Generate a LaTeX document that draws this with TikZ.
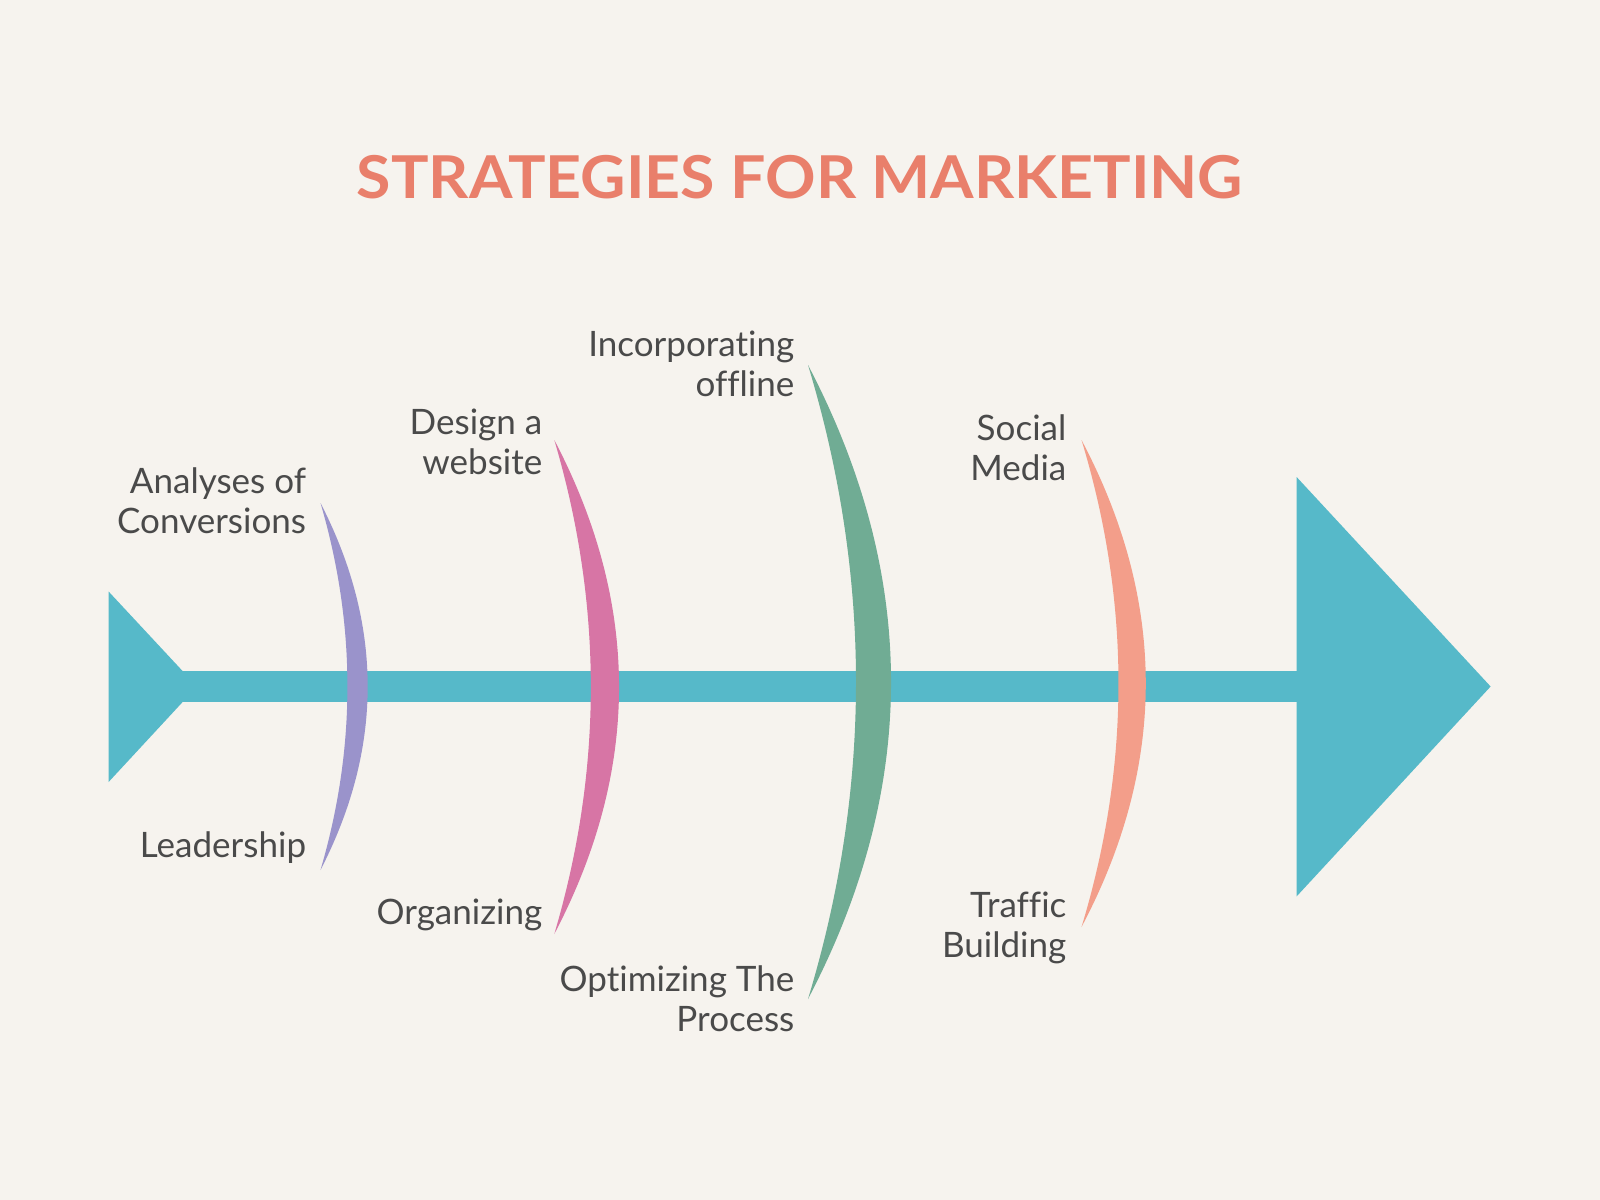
\documentclass[tikz,border=0pt]{standalone}
\usepackage{fontspec}
\usepackage{graphicx}
\setmainfont{Lato}[Ligatures=NoCommon]
\definecolor{paper}{HTML}{F6F3EE}
\definecolor{spinecol}{HTML}{56B9C9}
\definecolor{ink}{HTML}{4A4A4A}
\definecolor{titlecol}{HTML}{E97F6B}
\definecolor{bonepurple}{HTML}{9A93CB}
\definecolor{bonepink}{HTML}{D775A5}
\definecolor{bonegreen}{HTML}{70AC94}
\definecolor{bonesalmon}{HTML}{F39E8A}

\begin{document}
\begin{tikzpicture}[x=0.01cm,y=-0.01cm,
  cause/.style={anchor=base east,align=right,inner sep=0pt,text=ink,
    font=\fontsize{9.96}{11.1}\selectfont},
  headline/.style={anchor=base,inner sep=0pt,text=titlecol,
    font=\fontsize{16.8}{18}\selectfont\bfseries}]
% background
\fill[paper] (0,0) rectangle (1600,1200);
\useasboundingbox (0,0) rectangle (1600,1200);
% title
\node[headline] (title) at (800,198) {\scalebox{1.06}[1]{STRATEGIES FOR MARKETING}};
% drawing the spine
\coordinate (tail) at (182.4,686.5);
\coordinate (head) at (1296.6,686.5);
\draw[spinecol, line width=0.31cm] (tail) -- (head);
\fill[spinecol] (108.6,591.5) -- (197,686.5) -- (108.6,782) -- cycle;
\fill[spinecol] (1296.6,477) -- (1490.6,686.5) -- (1296.6,896.4) -- cycle;
% end of spine
% four bones
\fill[bonepurple] (320.5,503) .. controls (383.4,625.3) and (383.4,747.7) .. (320.5,870)
  .. controls (356.4,747.7) and (356.4,625.3) .. (320.5,503) -- cycle;
\fill[bonepink] (554.3,440) .. controls (640.6,604.7) and (640.6,769.3) .. (554.3,934)
  .. controls (603.0,769.3) and (603.0,604.7) .. (554.3,440) -- cycle;
\fill[bonegreen] (808,365) .. controls (918.7,576.3) and (918.7,787.7) .. (808,999)
  .. controls (872,787.7) and (872,576.3) .. (808,365) -- cycle;
\fill[bonesalmon] (1081.5,440) .. controls (1167.2,602.3) and (1167.2,764.7) .. (1081.5,927)
  .. controls (1130.8,764.7) and (1130.8,602.3) .. (1081.5,440) -- cycle;
% labels (base of the last line)
\node[cause] (conv) at (306.8,533) {Analyses of\\Conversions};
\node[cause] (lead) at (306.8,857) {Leadership};
\node[cause] (design) at (543,474) {Design a\\website};
\node[cause] (organ) at (543,924) {Organizing};
\node[cause] (offline) at (795,396) {Incorporating\\offline};
\node[cause] (optim) at (795,1031) {Optimizing The\\Process};
\node[cause] (social) at (1067,480) {Social\\Media};
\node[cause] (traffic) at (1067,957) {Traffic\\Building};
\end{tikzpicture}
\end{document}
